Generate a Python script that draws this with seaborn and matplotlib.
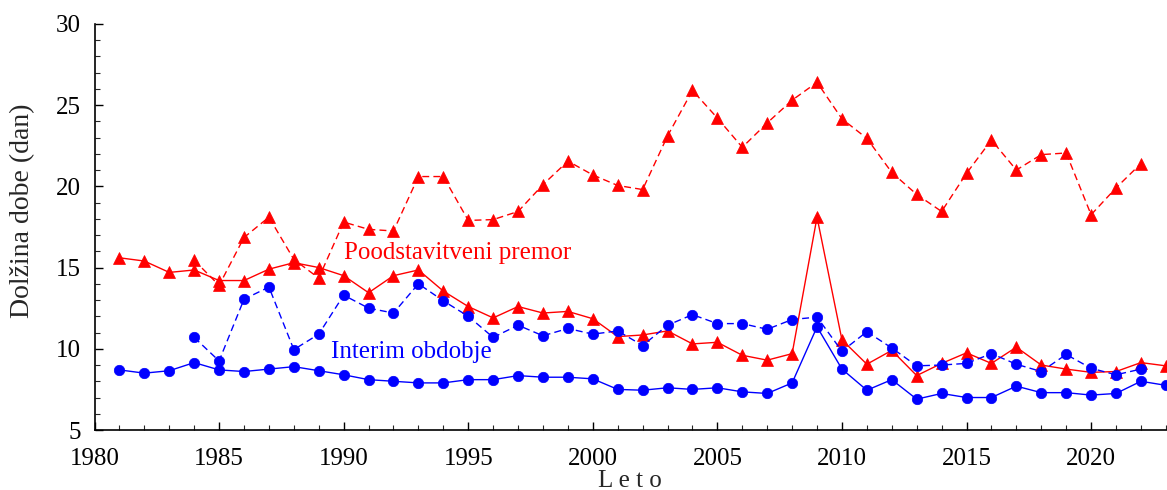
import matplotlib
matplotlib.use("Agg")
import matplotlib.pyplot as plt
import seaborn as sns
import numpy as np
import pandas as pd
from matplotlib.ticker import MultipleLocator

# ---- data ----
years_full = list(range(1981, 2024))
premor_solid = [15.6, 15.4, 14.7, 14.85, 14.2, 14.2, 14.9, 15.3, 15.0, 14.5,
                13.45, 14.5, 14.85, 13.55, 12.6, 11.9, 12.6, 12.2, 12.3, 11.85,
                10.75, 10.85, 11.1, 10.3, 10.4, 9.6, 9.3, 9.7, 18.1, 10.55,
                9.05, 9.9, 8.35, 9.1, 9.75, 9.1, 10.1, 9.0, 8.75, 8.55,
                8.6, 9.15, 8.95]
interim_solid = [8.7, 8.5, 8.65, 9.15, 8.7, 8.6, 8.75, 8.9, 8.65, 8.4,
                 8.1, 8.0, 7.9, 7.9, 8.1, 8.1, 8.35, 8.25, 8.25, 8.15,
                 7.5, 7.45, 7.6, 7.5, 7.6, 7.35, 7.25, 7.9, 11.35, 8.75,
                 7.45, 8.1, 6.9, 7.25, 7.0, 7.0, 7.7, 7.3, 7.3, 7.15,
                 7.25, 8.0, 7.75]
years_dash = list(range(1984, 2023))
premor_dash = [15.45, 13.9, 16.85, 18.1, 15.5, 14.35, 17.8,
               17.35, 17.25, 20.6, 20.6, 17.9, 17.95, 18.45, 20.1, 21.55, 20.7,
               20.05, 19.8, 23.1, 25.9, 24.2, 22.4, 23.9, 25.3, 26.4, 24.15,
               22.95, 20.85, 19.5, 18.45, 20.8, 22.85, 21.0, 21.95, 22.05, 18.25,
               19.9, 21.4]
interim_dash = [10.7, 9.25, 13.05, 13.8, 9.95, 10.9, 13.3,
                12.5, 12.2, 14.0, 12.95, 12.0, 10.7, 11.45, 10.8, 11.25, 10.9,
                11.1, 10.2, 11.45, 12.1, 11.55, 11.55, 11.2, 11.8, 11.95, 9.85,
                11.05, 10.05, 8.95, 9.0, 9.1, 9.7, 9.05, 8.6, 9.65, 8.8,
                8.4, 8.75]

label_premor = "Poodstavitveni premor"
label_interim = "Interim obdobje"
xlabel = "L e t o"
ylabel = "Dolžina dobe (dan)"

RED = "#ff0000"
BLUE = "#0000ff"

sns.set_style("ticks")
plt.rcParams['font.family'] = ['Liberation Serif', 'DejaVu Serif']

fig = plt.figure(figsize=(11.67, 4.9), dpi=100)
ax = fig.add_axes([0.081, 0.1224, 0.918, 0.829])

common = dict(linewidth=1.0, markeredgewidth=0.5)

sns.lineplot(x=years_dash, y=premor_dash, ax=ax, color=RED, marker="^",
             markersize=9, markeredgecolor=RED, **common).lines[-1].set_dashes((5, 3))
sns.lineplot(x=years_full, y=premor_solid, ax=ax, color=RED, marker="^",
             markersize=9, markeredgecolor=RED, **common)
sns.lineplot(x=years_dash, y=interim_dash, ax=ax, color=BLUE, marker="o",
             markersize=7.5, markeredgecolor=BLUE, **common).lines[-1].set_dashes((5, 3))
sns.lineplot(x=years_full, y=interim_solid, ax=ax, color=BLUE, marker="o",
             markersize=7.5, markeredgecolor=BLUE, **common)

ax.set_xlim(1980, 2023)
ax.set_ylim(5, 30)
ax.xaxis.set_major_locator(MultipleLocator(5))
ax.xaxis.set_minor_locator(MultipleLocator(1))
ax.yaxis.set_major_locator(MultipleLocator(5))
ax.yaxis.set_minor_locator(MultipleLocator(1))
ax.tick_params(which="major", direction="in", length=6, width=1.0, labelsize=18,
               colors="black")
ax.tick_params(which="minor", direction="in", length=3.5, width=0.8)
ax.tick_params(axis="x", which="major", pad=13)
ax.tick_params(axis="y", which="major", pad=10)

for side in ["top", "right"]:
    ax.spines[side].set_visible(False)
for side in ["left", "bottom"]:
    ax.spines[side].set_linewidth(1.2)
    ax.spines[side].set_color("black")

ax.set_xlabel(xlabel, fontsize=18, labelpad=0)
ax.set_ylabel(ylabel, fontsize=20)
ax.yaxis.set_label_coords(-0.055, 0.54)

ax.text(1990.0, 15.9, label_premor, color=RED, fontsize=18, va="center", ha="left")
ax.text(1989.5, 9.8, label_interim, color=BLUE, fontsize=18, va="center", ha="left")

fig.savefig("out.png", dpi=100)
